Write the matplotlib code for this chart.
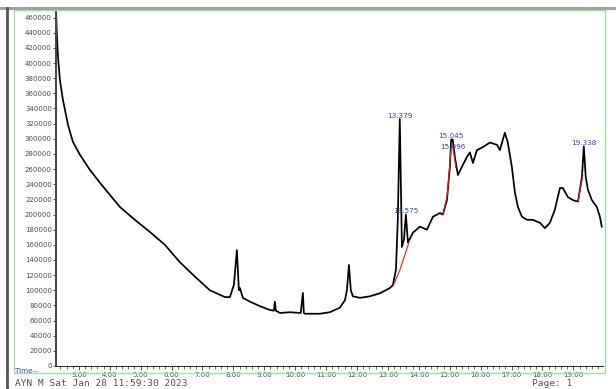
import matplotlib
matplotlib.use("Agg")
import matplotlib.pyplot as plt
from matplotlib.lines import Line2D
from matplotlib.patches import Rectangle

# chromatogram trace (time in min, abundance)
time_min = [2.26, 2.288, 2.32, 2.385, 2.482, 2.644, 2.806, 3.032, 3.356, 3.68,
            4.003, 4.327, 4.812, 5.298, 5.783, 6.269, 6.754, 7.239, 7.725, 7.887,
            8.016, 8.113, 8.178, 8.21, 8.307, 8.534, 8.858, 9.181, 9.31, 9.343,
            9.375, 9.505, 9.828, 10.18, 10.249, 10.28, 10.314, 10.8, 11.12, 11.447,
            11.61, 11.674, 11.738, 11.8, 11.867, 12.094, 12.417, 12.741, 13.065, 13.162,
            13.26, 13.32, 13.385, 13.453, 13.52, 13.582, 13.647, 13.809, 14.036, 14.262,
            14.456, 14.683, 14.78, 14.91, 15.006, 15.045, 15.096, 15.17, 15.265, 15.395,
            15.556, 15.654, 15.751, 15.88, 16.074, 16.3, 16.53, 16.625, 16.72, 16.786,
            16.88, 17.01, 17.11, 17.207, 17.337, 17.5, 17.69, 17.92, 18.08, 18.24,
            18.4, 18.566, 18.66, 18.825, 18.987, 19.15, 19.28, 19.338, 19.4, 19.47,
            19.6, 19.76, 19.86, 19.92]
abundance = [470000, 437500, 411000, 378000, 352000, 319000, 296000, 279000, 259000, 242000,
             226000, 210000, 193000, 177000, 160000, 137000, 118000, 100000, 91000, 91000,
             107000, 153000, 100000, 103000, 90000, 85000, 79000, 74000, 73000, 85000,
             73000, 70000, 71000, 70000, 96500, 70000, 69000, 69000, 71000, 77000,
             87000, 100000, 133500, 100000, 92000, 90000, 92000, 96000, 103000, 107000,
             127000, 193000, 326000, 157000, 167000, 200000, 163000, 176000, 184000, 180000,
             197000, 202000, 200000, 219000, 263000, 299000, 299000, 275000, 252000, 263000,
             276000, 282000, 268000, 285000, 289000, 295000, 292000, 285000, 299000, 308000,
             295000, 263000, 229000, 210000, 197000, 193000, 193000, 189000, 182000, 189000,
             206000, 235000, 235000, 223000, 219000, 217000, 250000, 290000, 250000, 233000,
             219000, 210000, 197000, 184000]

# integration baselines (red)
base1_t = [13.16, 13.39, 13.68]
base1_v = [105000, 127000, 163000]
base2_t = [14.78, 14.92, 15.04]
base2_v = [200000, 225000, 285000]
base3_t = [15.10, 15.20]
base3_v = [290000, 262000]
base4_t = [19.15, 19.31]
base4_v = [217000, 252000]

# peak labels
peak_labels = ["13.379", "13.575", "15.045", "15.096", "19.338"]
peak_times = [13.379, 13.575, 15.045, 15.096, 19.338]
peak_label_y = [330000, 205000, 304000, 289500, 295000]

W, H = 616, 389
fig = plt.figure(figsize=(W / 100, H / 100), dpi=100)
ax = fig.add_axes([56 / W, (H - 366) / H, (603 - 56) / W, (366 - 10) / H])

ax.plot(time_min, abundance, color="black", lw=1.25)
for bt, bv in [(base1_t, base1_v), (base2_t, base2_v), (base3_t, base3_v), (base4_t, base4_v)]:
    ax.plot(bt, bv, color="#e02020", lw=0.8)
for lab, t, y in zip(peak_labels, peak_times, peak_label_y):
    ax.text(t, y, lab, color="#3a3ad0", fontsize=5.2, ha="center", va="center")

ax.set_xlim(2.26, 19.96)
ax.set_ylim(0, 470000)

ax.set_yticks(range(0, 460001, 20000))
ax.set_yticklabels([str(v) for v in range(0, 460001, 20000)])
ax.set_xticks(range(3, 20))
ax.set_xticklabels(["%.2f" % v for v in range(3, 20)])
ax.set_xticks([x / 5 for x in range(12, 100) if x % 5 != 0], minor=True)

ax.tick_params(axis="y", direction="out", length=2.5, width=0.6, labelsize=5.0,
               labelcolor="#4a4a55", pad=0.5, color="#333333")
ax.tick_params(axis="x", which="major", direction="out", length=3, width=0.6,
               labelsize=5.0, labelcolor="#4a4a55", pad=1, color="#333333")
ax.tick_params(axis="x", which="minor", direction="out", length=1.8, width=0.5,
               color="#333333")

for s in ["top", "right"]:
    ax.spines[s].set_visible(False)
ax.spines["left"].set_color("#444444")
ax.spines["left"].set_linewidth(1.4)
ax.spines["bottom"].set_color("#222222")
ax.spines["bottom"].set_linewidth(0.7)

# page decorations
fig.add_artist(Line2D([0, 1], [(H - 8) / H, (H - 8) / H], color="#a0a0a0", lw=2.2))
fig.add_artist(Line2D([7 / W, 7 / W], [0, (H - 8) / H], color="#555555", lw=2.0))
fig.add_artist(Rectangle((14 / W, (H - 373) / H), (605 - 14) / W, (373 - 10) / H,
                         fill=False, edgecolor="#9be49b", lw=1.0, transform=fig.transFigure))
fig.text(15 / W, (H - 371) / H, "Time--", color="#3a3ad0", fontsize=5.2, va="center")
fig.text(15 / W, 1.5 / H, "AYN M Sat Jan 28 11:59:30 2023", color="#555555",
         fontsize=6.8, family="DejaVu Sans Mono", va="bottom")
fig.text(532 / W, 1.5 / H, "Page: 1", color="#555555",
         fontsize=6.8, family="DejaVu Sans Mono", va="bottom")

fig.savefig("out.png", dpi=100)
